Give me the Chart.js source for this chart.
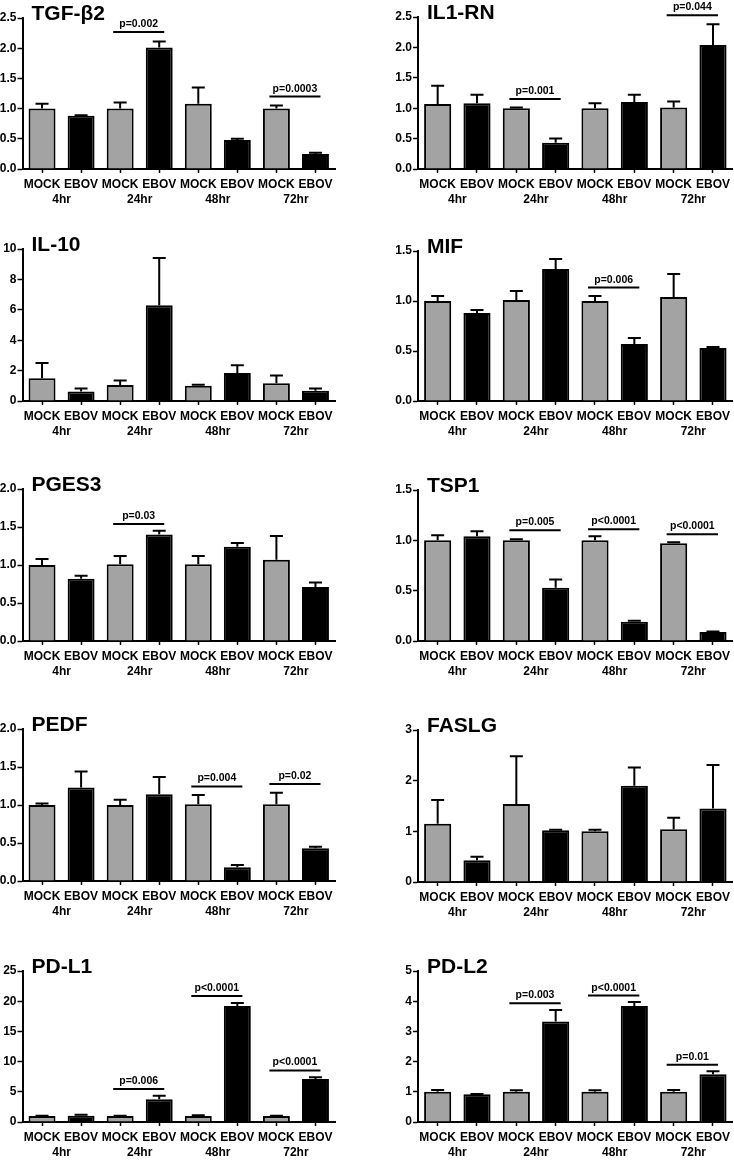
<!DOCTYPE html>
<html>
<head>
<meta charset="utf-8">
<script src="https://cdn.jsdelivr.net/npm/chart.js@4.4.1/dist/chart.umd.min.js"></script>
<style>
  html, body { margin: 0; padding: 0; background: #fff; width: 734px; height: 1160px; overflow: hidden; }
  #wrap { position: relative; width: 734px; height: 1160px; }
  canvas { position: absolute; }
</style>
</head>
<body>
<div id="wrap"></div>
<script>
// ---- data ----
const categories = ['MOCK', 'EBOV', 'MOCK', 'EBOV', 'MOCK', 'EBOV', 'MOCK', 'EBOV'];
const timepoints = ['4hr', '24hr', '48hr', '72hr'];
const titles = ['TGF-\u03B22', 'IL1-RN', 'IL-10', 'MIF', 'PGES3', 'TSP1', 'PEDF', 'FASLG', 'PD-L1', 'PD-L2'];

const tgfb2 = [1.0, 0.88, 1.0, 2.01, 1.08, 0.48, 1.0, 0.25];
const tgfb2Err = [0.08, 0.01, 0.1, 0.1, 0.27, 0.02, 0.05, 0.02];
const tgfb2P = [{from: 2, to: 3, at: 2.27, label: 'p=0.002'}, {from: 6, to: 7, at: 1.2, label: 'p=0.0003'}];

const il1rn = [1.07, 1.08, 1.0, 0.43, 1.0, 1.10, 1.01, 2.04];
const il1rnErr = [0.3, 0.14, 0.01, 0.07, 0.08, 0.12, 0.1, 0.34];
const il1rnP = [{from: 2, to: 3, at: 1.15, label: 'p=0.001'}, {from: 6, to: 7, at: 2.53, label: 'p=0.044'}];

const il10 = [1.5, 0.62, 1.05, 6.3, 1.0, 1.85, 1.17, 0.68];
const il10Err = [1.0, 0.2, 0.3, 3.1, 0.07, 0.5, 0.5, 0.15];
const il10P = [];

const mif = [1.0, 0.88, 1.01, 1.32, 1.0, 0.57, 1.04, 0.53];
const mifErr = [0.05, 0.03, 0.09, 0.1, 0.05, 0.06, 0.23, 0.01];
const mifP = [{from: 4, to: 5, at: 1.134, label: 'p=0.006'}];

const pges3 = [1.0, 0.82, 1.01, 1.40, 1.01, 1.24, 1.07, 0.71];
const pges3Err = [0.08, 0.04, 0.11, 0.05, 0.11, 0.05, 0.31, 0.06];
const pges3P = [{from: 2, to: 3, at: 1.54, label: 'p=0.03'}];

const tsp1 = [1.0, 1.04, 1.0, 0.53, 1.0, 0.19, 0.97, 0.09];
const tsp1Err = [0.05, 0.05, 0.01, 0.08, 0.04, 0.01, 0.01, 0.005];
const tsp1P = [{from: 2, to: 3, at: 1.10, label: 'p=0.005'}, {from: 4, to: 5, at: 1.11, label: 'p<0.0001'}, {from: 6, to: 7, at: 1.06, label: 'p<0.0001'}];

const pedf = [1.0, 1.23, 1.0, 1.14, 1.01, 0.18, 1.01, 0.43];
const pedfErr = [0.02, 0.21, 0.07, 0.23, 0.12, 0.03, 0.15, 0.02];
const pedfP = [{from: 4, to: 5, at: 1.244, label: 'p=0.004'}, {from: 6, to: 7, at: 1.275, label: 'p=0.02'}];

const faslg = [1.15, 0.43, 1.54, 1.02, 1.0, 1.9, 1.04, 1.45];
const faslgErr = [0.47, 0.07, 0.94, 0.01, 0.03, 0.36, 0.23, 0.86];
const faslgP = [];

const pdl1 = [1.0, 1.05, 1.0, 3.75, 1.0, 19.2, 1.0, 7.1];
const pdl1Err = [0.05, 0.15, 0.05, 0.6, 0.1, 0.5, 0.05, 0.3];
const pdl1P = [{from: 2, to: 3, at: 5.45, label: 'p=0.006'}, {from: 4, to: 5, at: 20.87, label: 'p<0.0001'}, {from: 6, to: 7, at: 8.53, label: 'p<0.0001'}];

const pdl2 = [1.0, 0.92, 1.0, 3.33, 1.0, 3.84, 1.0, 1.58];
const pdl2Err = [0.06, 0.01, 0.05, 0.38, 0.05, 0.13, 0.06, 0.1];
const pdl2P = [{from: 2, to: 3, at: 3.93, label: 'p=0.003'}, {from: 4, to: 5, at: 4.185, label: 'p<0.0001'}, {from: 6, to: 7, at: 1.894, label: 'p=0.01'}];

const yMax = [2.5, 2.5, 10, 1.5, 2, 1.5, 2, 3, 25, 5];
const yStep = [0.5, 0.5, 2, 0.5, 0.5, 0.5, 0.5, 1, 5, 1];

// ---- layout (pixel geometry) ----
const plotRows = [
  [[18, 169], [17, 169]],
  [[249, 401], [251, 401]],
  [[489, 641], [490, 641]],
  [[729, 881], [730, 882]],
  [[971, 1122], [971, 1122]]
];

const seriesValues = [tgfb2, il1rn, il10, mif, pges3, tsp1, pedf, faslg, pdl1, pdl2];
const seriesErrors = [tgfb2Err, il1rnErr, il10Err, mifErr, pges3Err, tsp1Err, pedfErr, faslgErr, pdl1Err, pdl2Err];
const seriesP = [tgfb2P, il1rnP, il10P, mifP, pges3P, tsp1P, pedfP, faslgP, pdl1P, pdl2P];

const FONT = '"Liberation Sans", Arial, Helvetica, sans-serif';
Chart.defaults.font.family = FONT;
Chart.defaults.font.weight = 'bold';
Chart.defaults.font.size = 12;
Chart.defaults.color = '#000';

const MOCK_COLOR = '#a3a3a3';
const EBOV_COLOR = '#000000';

function annotPlugin(idx) {
  return {
    id: 'annot' + idx,
    afterDatasetsDraw(chart) {
      const ctx = chart.ctx;
      const y = chart.scales.y;
      const meta = chart.getDatasetMeta(0);
      const vals = seriesValues[idx], errs = seriesErrors[idx];
      ctx.save();
      ctx.strokeStyle = '#000';
      ctx.lineWidth = 2;
      meta.data.forEach((bar, i) => {
        const e = errs[i];
        if (!e) return;
        const y0 = y.getPixelForValue(vals[i]);
        const y1 = y.getPixelForValue(vals[i] + e);
        ctx.beginPath();
        ctx.moveTo(bar.x, y0);
        ctx.lineTo(bar.x, y1);
        ctx.moveTo(bar.x - 6.5, y1);
        ctx.lineTo(bar.x + 6.5, y1);
        ctx.stroke();
      });
      seriesP[idx].forEach(p => {
        const a = meta.data[p.from], b = meta.data[p.to];
        const ly = y.getPixelForValue(p.at);
        const x0 = a.x - 7, x1 = b.x + 5;
        ctx.beginPath();
        ctx.moveTo(x0, ly);
        ctx.lineTo(x1, ly);
        ctx.stroke();
        ctx.font = 'bold 10.5px ' + FONT;
        ctx.fillStyle = '#000';
        ctx.textAlign = 'center';
        ctx.textBaseline = 'alphabetic';
        ctx.fillText(p.label, (x0 + x1) / 2, ly - 5);
      });
      ctx.font = 'bold 21px ' + FONT;
      ctx.fillStyle = '#000';
      ctx.textAlign = 'left';
      ctx.textBaseline = 'alphabetic';
      ctx.fillText(titles[idx], chart.chartArea.left + 9, chart.chartArea.top + 2);
      ctx.restore();
    }
  };
}

const wrap = document.getElementById('wrap');
for (let idx = 0; idx < 10; idx++) {
  const row = Math.floor(idx / 2), col = idx % 2;
  const [pTop, pBot] = plotRows[row][col];
  const padTop = Math.min(pTop, 24);
  const cTop = pTop - padTop;
  const xH = 22, x2H = 26;
  const height = padTop + (pBot - pTop) + xH + x2H;
  const width = 367;
  const left = col === 0 ? 0 : 367;
  const yW = col === 0 ? 22.5 : 51;
  const padRight = col === 0 ? 32 : 0;

  const cv = document.createElement('canvas');
  cv.width = width; cv.height = height;
  cv.style.left = left + 'px'; cv.style.top = cTop + 'px';
  cv.style.width = width + 'px'; cv.style.height = height + 'px';
  wrap.appendChild(cv);

  const dec = yStep[idx] < 1 ? 1 : 0;
  new Chart(cv.getContext('2d'), {
    type: 'bar',
    data: {
      labels: categories,
      datasets: [{
        data: seriesValues[idx],
        backgroundColor: categories.map(c => c === 'MOCK' ? MOCK_COLOR : EBOV_COLOR),
        borderColor: '#000',
        borderWidth: 2,
        barPercentage: 0.69,
        categoryPercentage: 1.0
      }]
    },
    options: {
      responsive: false,
      animation: false,
      devicePixelRatio: 1,
      layout: { padding: { top: padTop, right: padRight, left: 0, bottom: 0 } },
      plugins: { legend: { display: false }, tooltip: { enabled: false }, title: { display: false } },
      scales: {
        x: {
          type: 'category',
          position: 'bottom',
          weight: 0,
          offset: true,
          grid: { drawOnChartArea: false, offset: false, color: '#000', tickLength: 4, tickWidth: 1.5 },
          border: { color: '#000', width: 2 },
          ticks: { padding: 4, maxRotation: 0, autoSkip: false, font: { size: 12, weight: 'bold' }, color: '#000' },
          afterFit: s => { s.height = xH; }
        },
        x2: {
          type: 'category',
          position: 'bottom',
          weight: 1,
          labels: timepoints,
          offset: true,
          grid: { display: false, drawTicks: false },
          border: { display: false },
          ticks: { padding: 1, maxRotation: 0, autoSkip: false, font: { size: 12, weight: 'bold' }, color: '#000' },
          afterFit: s => { s.height = x2H; }
        },
        y: {
          min: 0,
          max: yMax[idx],
          grid: { drawOnChartArea: false, color: '#000', tickLength: 5, tickWidth: 1.5 },
          border: { color: '#000', width: 2 },
          ticks: { stepSize: yStep[idx], padding: 1, font: { size: 12, weight: 'bold' }, color: '#000',
                   callback: v => Number(v).toFixed(dec) },
          afterFit: s => { s.width = yW; }
        }
      }
    },
    plugins: [annotPlugin(idx)]
  });
}
</script>
</body>
</html>
